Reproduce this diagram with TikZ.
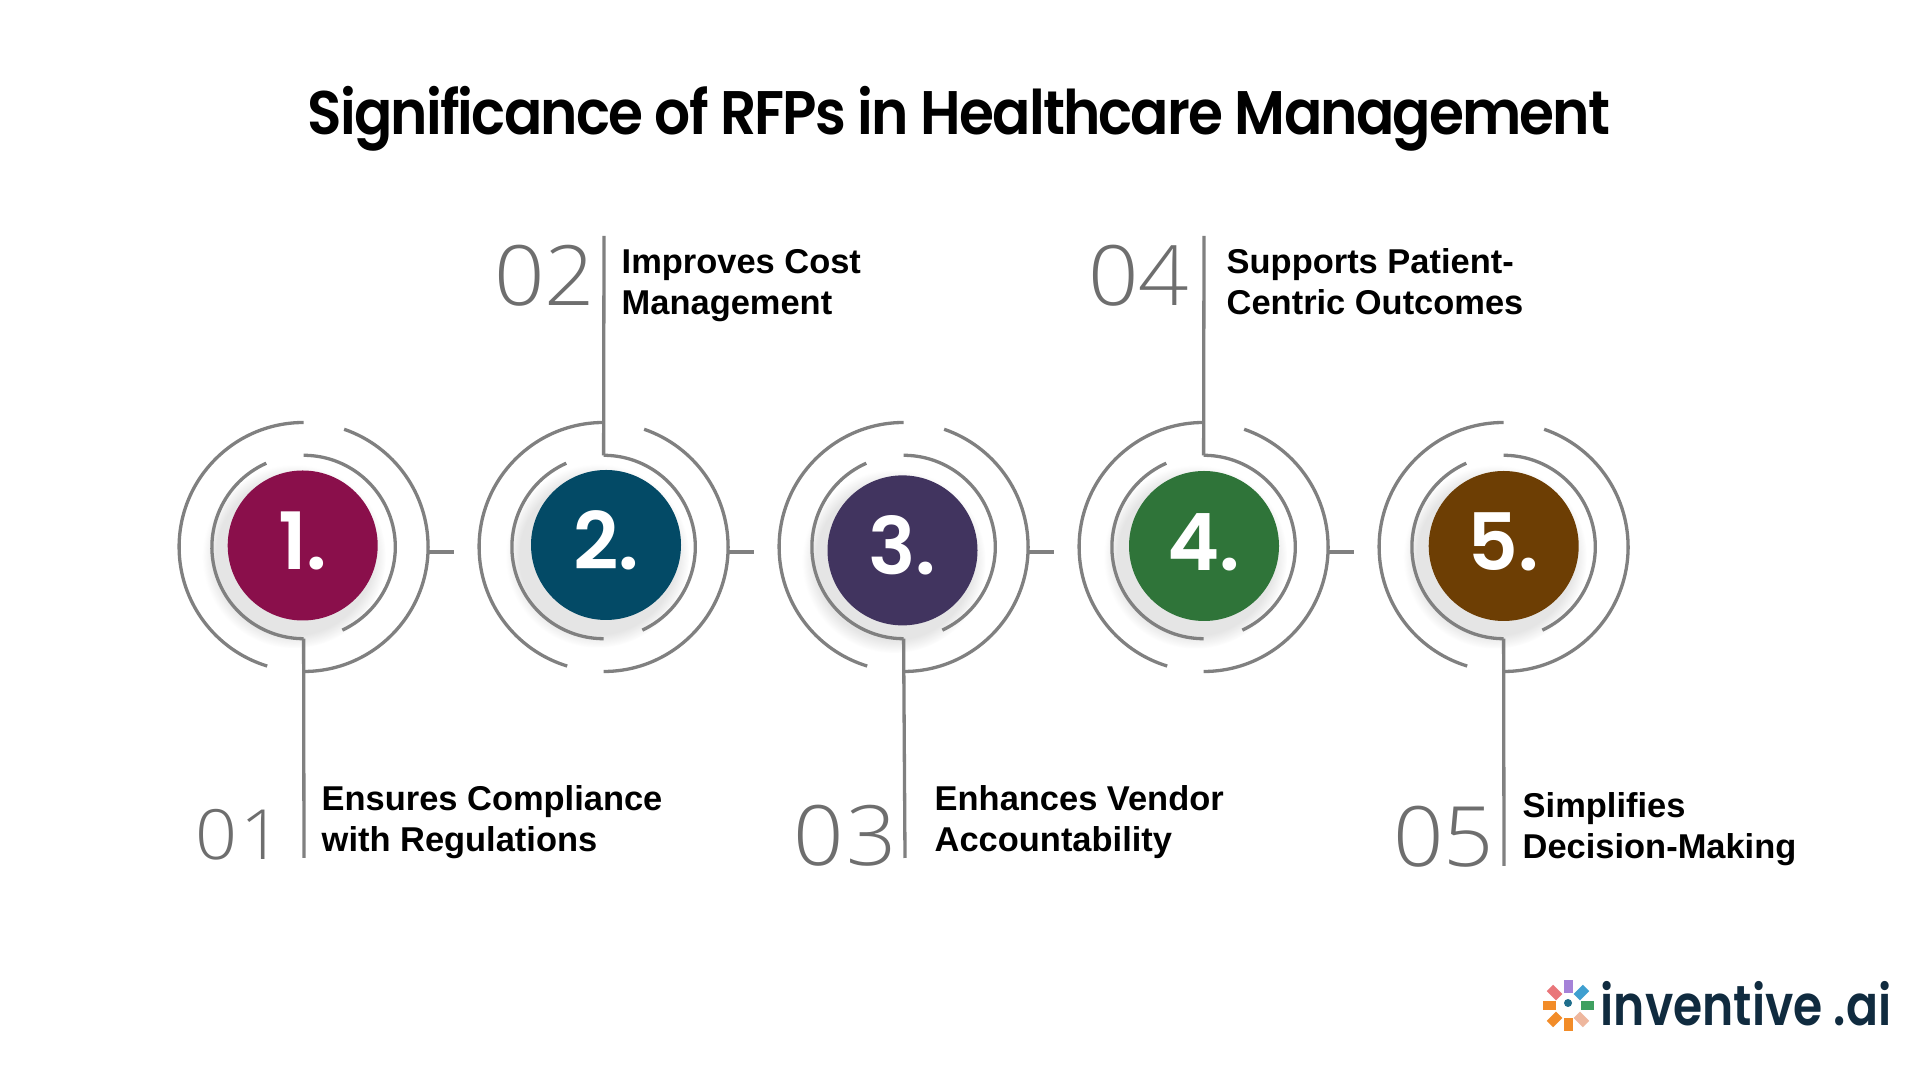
\documentclass[tikz,border=0pt]{standalone}
\usepackage{fontspec}
\setmainfont{Liberation Sans}
\newfontfamily\headfont[FakeStretch=0.92,LetterSpace=-3]{Poppins SemiBold}
\newfontfamily\badgefont{Poppins SemiBold}
\newfontfamily\logofont[FakeStretch=0.84]{Poppins SemiBold}
\newfontfamily\digitfont[FakeStretch=1.06]{Open Sans Light}
\usetikzlibrary{shadows}
\definecolor{ringgray}{HTML}{808080}
\definecolor{digitgray}{HTML}{6E6E6E}
\definecolor{badgeone}{HTML}{8A0F4B}
\definecolor{badgetwo}{HTML}{034A66}
\definecolor{badgethree}{HTML}{41345F}
\definecolor{badgefour}{HTML}{2F7439}
\definecolor{badgefive}{HTML}{6D3E04}
\definecolor{logonavy}{HTML}{102B3F}
\definecolor{petalpurple}{HTML}{A582D8}
\definecolor{petalblue}{HTML}{3F9FD0}
\definecolor{petalgreen}{HTML}{3FA060}
\definecolor{petalpeach}{HTML}{EEB79E}
\definecolor{petalorange}{HTML}{F28C28}
\definecolor{petalsalmon}{HTML}{E9767A}
\definecolor{markteal}{HTML}{1F6E8C}
\begin{document}
\begin{tikzpicture}[
  ringline/.style={draw=ringgray, line width=0.033cm},
  badge/.style={circle, minimum size=1.5cm, inner sep=0, text=white, text height=0.57cm, text depth=0.08cm,
    font=\badgefont\fontsize{22.5pt}{24pt}\selectfont,
    circular drop shadow={shadow xshift=-0.07cm, shadow yshift=-0.09cm, shadow scale=1.22, fill=black!10}},
  bignum/.style={anchor=base east, inner sep=0, text=digitgray, font=\digitfont\fontsize{23.7pt}{24pt}\selectfont},
  caption/.style={anchor=north west, inner sep=0, align=left, font=\bfseries\fontsize{9.8pt}{11.65pt}\selectfont},
  petal/.style={minimum width=0.09cm, minimum height=0.13cm, inner sep=0}]
\useasboundingbox[fill=white] (0,0) rectangle (19.2,10.8);
\node[inner sep=0, anchor=base, font=\headfont\fontsize{17.5pt}{20pt}\selectfont] (title) at (9.59,9.453) {Significance of RFPs in Healthcare Management};
% ring centres
\coordinate (ring1) at (3.036,5.33);
\coordinate (ring2) at (6.036,5.33);
\coordinate (ring3) at (9.036,5.33);
\coordinate (ring4) at (12.036,5.33);
\coordinate (ring5) at (15.036,5.33);
% free ends of the stems
\coordinate (end1) at (3.04,2.22);
\coordinate (end2) at (6.04,8.44);
\coordinate (end3) at (9.05,2.22);
\coordinate (end4) at (12.04,8.44);
\coordinate (end5) at (15.04,2.14);
\node[badge, fill=badgeone] (one) at (3.027,5.345) {1.};
\node[badge, fill=badgetwo] (two) at (6.06,5.35) {2.};
\node[badge, fill=badgethree] (three) at (9.025,5.296) {3.};
\node[badge, fill=badgefour] (four) at (12.04,5.34) {4.};
\node[badge, fill=badgefive] (five) at (15.037,5.34) {5.};
\draw[ringline] ([shift={(90:1.245)}]ring1) arc [start angle=90, end angle=253, radius=1.245] ([shift={(-90:1.245)}]ring1) arc [start angle=-90, end angle=71, radius=1.245];
\draw[ringline] ([shift={(114:0.917)}]ring1) arc [start angle=114, end angle=270, radius=0.917] ([shift={(-65:0.917)}]ring1) arc [start angle=-65, end angle=90, radius=0.917];
\draw[ringline] ([shift={(90:1.245)}]ring2) arc [start angle=90, end angle=253, radius=1.245] ([shift={(-90:1.245)}]ring2) arc [start angle=-90, end angle=71, radius=1.245];
\draw[ringline] ([shift={(114:0.917)}]ring2) arc [start angle=114, end angle=270, radius=0.917] ([shift={(-65:0.917)}]ring2) arc [start angle=-65, end angle=90, radius=0.917];
\draw[ringline] ([shift={(90:1.245)}]ring3) arc [start angle=90, end angle=253, radius=1.245] ([shift={(-90:1.245)}]ring3) arc [start angle=-90, end angle=71, radius=1.245];
\draw[ringline] ([shift={(114:0.917)}]ring3) arc [start angle=114, end angle=270, radius=0.917] ([shift={(-65:0.917)}]ring3) arc [start angle=-65, end angle=90, radius=0.917];
\draw[ringline] ([shift={(90:1.245)}]ring4) arc [start angle=90, end angle=253, radius=1.245] ([shift={(-90:1.245)}]ring4) arc [start angle=-90, end angle=71, radius=1.245];
\draw[ringline] ([shift={(114:0.917)}]ring4) arc [start angle=114, end angle=270, radius=0.917] ([shift={(-65:0.917)}]ring4) arc [start angle=-65, end angle=90, radius=0.917];
\draw[ringline] ([shift={(90:1.245)}]ring5) arc [start angle=90, end angle=253, radius=1.245] ([shift={(-90:1.245)}]ring5) arc [start angle=-90, end angle=71, radius=1.245];
\draw[ringline] ([shift={(114:0.917)}]ring5) arc [start angle=114, end angle=270, radius=0.917] ([shift={(-65:0.917)}]ring5) arc [start angle=-65, end angle=90, radius=0.917];
% ticks between the rings
\draw[ringline] ([shift={(1.25,-0.05)}]ring1) -- ([shift={(1.5,-0.05)}]ring1);
\draw[ringline] ([shift={(1.25,-0.05)}]ring2) -- ([shift={(1.5,-0.05)}]ring2);
\draw[ringline] ([shift={(1.25,-0.05)}]ring3) -- ([shift={(1.5,-0.05)}]ring3);
\draw[ringline] ([shift={(1.25,-0.05)}]ring4) -- ([shift={(1.5,-0.05)}]ring4);
% stems
\draw[ringline] ([yshift=-0.917cm]ring1) -- (end1);
\draw[ringline] ([yshift=0.917cm]ring2) -- (end2);
\draw[ringline] ([yshift=-0.917cm]ring3) -- (end3);
\draw[ringline] ([yshift=0.917cm]ring4) -- (end4);
\draw[ringline] ([yshift=-0.917cm]ring5) -- (end5);
\node[bignum, font=\digitfont\fontsize{19.7pt}{24pt}\selectfont] (num1) at (2.83,2.2) {0\hspace{0.03cm}1};
\node[bignum] (num2) at (5.96,7.74) {02};
\node[bignum] (num3) at (8.98,2.14) {0\hspace{0.03cm}3};
\node[bignum] (num4) at (11.9,7.74) {04};
\node[bignum] (num5) at (14.95,2.13) {05};
\node[caption] (text1) at (3.21,2.955) {Ensures Compliance\\with Regulations};
\node[caption] (text2) at (6.21,8.315) {Improves Cost\\Management};
\node[caption] (text3) at (9.34,2.955) {Enhances Vendor\\Accountability};
\node[caption] (text4) at (12.26,8.325) {Supports Patient-\\Centric Outcomes};
\node[caption] (text5) at (15.22,2.885) {Simplifies\\Decision-Making};
% logo mark
\coordinate (mark) at (15.68,0.74);
\node[circle, minimum size=0.08cm, inner sep=0, fill=markteal] (markmid) at ([yshift=0.03cm]mark) {};
\node[petal, rotate=0, fill=petalpurple] (p1) at ([shift={(90:0.19)}]mark) {};
\node[petal, rotate=-45, fill=petalblue] (p2) at ([shift={(45:0.19)}]mark) {};
\node[petal, rotate=-90, fill=petalgreen] (p3) at ([shift={(0:0.19)}]mark) {};
\node[petal, rotate=45, fill=petalpeach] (p4) at ([shift={(-45:0.19)}]mark) {};
\node[petal, rotate=0, fill=petalorange] (p5) at ([shift={(-90:0.19)}]mark) {};
\node[petal, rotate=-45, fill=petalorange] (p6) at ([shift={(-135:0.19)}]mark) {};
\node[petal, rotate=90, fill=petalorange] (p7) at ([shift={(180:0.19)}]mark) {};
\node[petal, rotate=45, fill=petalsalmon] (p8) at ([shift={(135:0.19)}]mark) {};
\node[inner sep=0, anchor=base west, text=logonavy, font=\logofont\fontsize{16pt}{18pt}\selectfont] (logo) at (16.0,0.54) {inventive .ai};
\end{tikzpicture}
\end{document}
